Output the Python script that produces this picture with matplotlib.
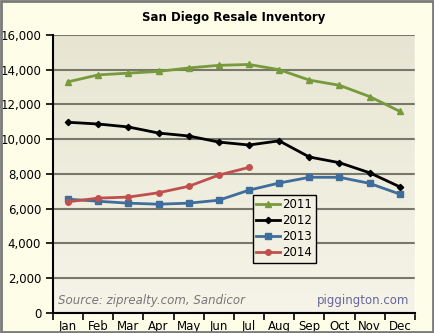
import numpy as np
import matplotlib.pyplot as plt

months = ['Jan', 'Feb', 'Mar', 'Apr', 'May', 'Jun', 'Jul', 'Aug', 'Sep', 'Oct', 'Nov', 'Dec']
inv_2011 = [13300, 13700, 13800, 13900, 14100, 14250, 14300, 14000, 13400, 13100, 12450, 11600]
inv_2012 = [10970, 10870, 10700, 10350, 10180, 9830, 9660, 9900, 8970, 8640, 8060, 7250]
inv_2013 = [6540, 6420, 6310, 6250, 6310, 6480, 7060, 7470, 7800, 7800, 7450, 6830]
inv_2014 = [6390, 6600, 6660, 6910, 7280, 7930, 8370]

fig = plt.figure(figsize=(4.34, 3.33), dpi=100, facecolor='#fefde8')
ax = fig.add_axes([0.122, 0.061, 0.834, 0.834])

# gradient background for plot area, darker at the top
grad = np.linspace(0, 1, 256).reshape(-1, 1)
cmap = plt.matplotlib.colors.LinearSegmentedColormap.from_list('bg', ['#f6f4e8', '#e7e5d2'])
ax.imshow(grad, extent=[0, 1, 0, 1], transform=ax.transAxes, aspect='auto',
          cmap=cmap, origin='lower', zorder=0)
ax.set_facecolor('none')

x = np.arange(len(months))
ax.plot(x, inv_2011, color='#779a3c', marker='^', markersize=4.5, lw=2, label='2011', zorder=3)
ax.plot(x, inv_2012, color='black', marker='D', markersize=3.2, lw=2, label='2012', zorder=3)
ax.plot(x[:len(inv_2013)], inv_2013, color='#3f6e9c', marker='s', markersize=4, lw=2, label='2013', zorder=3)
ax.plot(x[:len(inv_2014)], inv_2014, color='#c0504d', marker='o', markersize=4, lw=2, label='2014', zorder=3)

ax.set_xlim(-0.5, 11.5)
ax.set_ylim(0, 16000)
ax.set_yticks(range(0, 16001, 2000))
ax.set_yticklabels([f'{v:,}' for v in range(0, 16001, 2000)])
ax.set_xticks(x)
ax.set_xticklabels(months)
ax.set_xticks(np.arange(-0.5, 12, 1), minor=True)
ax.tick_params(axis='x', which='major', length=0, labelsize=8.5, pad=5)
ax.tick_params(axis='x', which='minor', length=5, width=1.2, direction='out')
ax.tick_params(axis='y', length=5, width=1.2, labelsize=8.5)
ax.grid(axis='y', color='#77776a', lw=1.5, zorder=1)
ax.set_axisbelow(True)
ax.spines['top'].set_visible(False)
ax.spines['right'].set_color('#ffffff')
ax.spines['right'].set_linewidth(1)
ax.spines['left'].set_linewidth(1.5)
ax.spines['bottom'].set_linewidth(1.5)

ax.set_title('San Diego Resale Inventory', fontsize=8.5, fontweight='bold', pad=10)

leg = ax.legend(loc='upper left', bbox_to_anchor=(0.552, 0.424), fontsize=8.5,
                fancybox=False, edgecolor='black', facecolor='#f2f0e2', framealpha=1,
                handlelength=2.0, handletextpad=0.2, borderpad=0.3, labelspacing=0.25,
                borderaxespad=0)
leg.get_frame().set_linewidth(1)

ax.text(0.015, 0.03, 'Source: ziprealty.com, Sandicor', transform=ax.transAxes,
        fontsize=8.5, style='italic', color='#777777')
ax.text(0.985, 0.03, 'piggington.com', transform=ax.transAxes, ha='right',
        fontsize=8.5, color='#66669a')

# outer border
fig.patches.append(plt.Rectangle((0.002, 0.003), 0.995, 0.994, transform=fig.transFigure,
                                 fill=False, edgecolor='#7a7a7a', lw=2))

fig.savefig('out.png', dpi=100, facecolor=fig.get_facecolor())
